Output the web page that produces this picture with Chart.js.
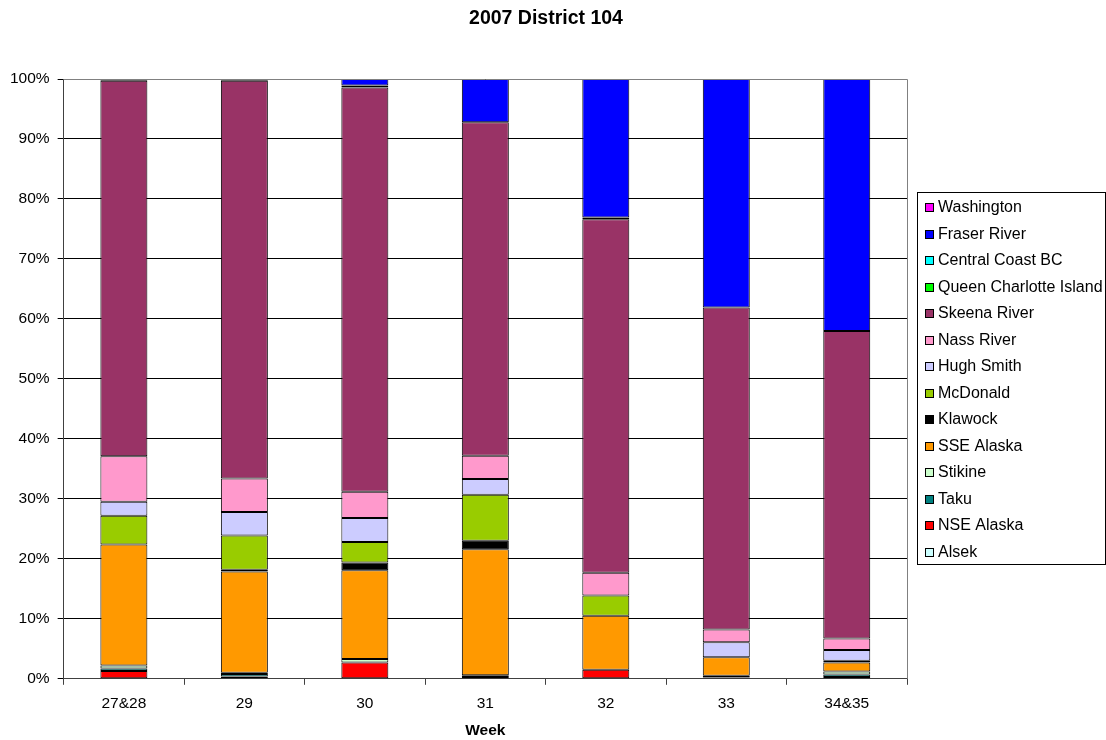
<!DOCTYPE html>
<html>
<head>
<meta charset="utf-8">
<script src="https://cdn.jsdelivr.net/npm/chart.js@4"></script>
<style>
  html, body { margin: 0; padding: 0; background: #fff; }
  #wrap { width: 1106px; height: 740px; }
</style>
</head>
<body>
<div id="wrap"><canvas id="statusChart"></canvas></div>
<script>
// week groups
const weeks = ['27&28', '29', '30', '31', '32', '33', '34&35'];

// percent of catch by stock (bottom of stack first)
const alsek        = [0.1, 0, 0, 0, 0, 0, 0];
const nseAlaska    = [1.2, 0.4, 2.7, 0.3, 1.5, 0.2, 0.3];
const taku         = [0.4, 0.4, 0, 0, 0, 0.3, 0.4];
const stikine      = [0.5, 0.2, 0.6, 0.3, 0, 0, 0.5];
const sseAlaska    = [20.2, 16.9, 14.8, 21.0, 9.0, 3.1, 1.5];
const klawock      = [0, 0.3, 1.3, 1.4, 0, 0, 0.3];
const mcDonald     = [4.8, 5.7, 3.4, 7.7, 3.4, 0, 0];
const hughSmith    = [2.3, 3.9, 4.0, 2.6, 0, 2.5, 1.8];
const nassRiver    = [7.6, 5.6, 4.4, 3.9, 3.8, 2.1, 1.9];
const skeenaRiver  = [62.6, 66.3, 67.4, 55.6, 58.9, 53.7, 51.3];
const qci          = [0, 0, 0.3, 0, 0.3, 0, 0];
const centralCoast = [0, 0, 0, 0, 0, 0, 0];
const fraserRiver  = [0.3, 0.3, 1.1, 7.2, 23.1, 38.1, 42.0];
const washington   = [0, 0, 0, 0, 0, 0, 0];

const yTicks = [0, 10, 20, 30, 40, 50, 60, 70, 80, 90, 100];

const chartTitle = '2007 District 104';

const FONT = "'Liberation Sans', Arial, sans-serif";

function ds(label, data, color) {
    return {
        label: label,
        data: data,
        backgroundColor: color,
        borderColor: '#000',
        borderWidth: 1,
        borderSkipped: false,
        categoryPercentage: 1,
        barPercentage: 0.39,
    };
}

// title, plot frame and boxed legend, like the spreadsheet original
const framePlugin = {
    id: 'frame',
    afterDraw(chart) {
        const c = chart.ctx;
        const a = chart.chartArea;
        c.save();

        c.fillStyle = '#000';
        c.font = 'bold 19.5px ' + FONT;
        c.textAlign = 'center';
        c.textBaseline = 'middle';
        c.fillText(chartTitle, 546, 19);

        c.strokeStyle = '#808080';
        c.lineWidth = 1;
        c.beginPath();
        c.moveTo(a.left, a.top + 0.5);
        c.lineTo(a.right + 0.5, a.top + 0.5);
        c.lineTo(a.right + 0.5, a.bottom);
        c.stroke();

        // legend
        const items = chart.data.datasets.slice().reverse();
        c.strokeStyle = '#000';
        c.strokeRect(917.5, 192.5, 188, 372);
        c.font = '16px ' + FONT;
        c.textAlign = 'left';
        items.forEach((d, i) => {
            const y = 207 + i * 26.5;
            c.fillStyle = d.backgroundColor;
            c.fillRect(925, Math.round(y - 4), 9, 9);
            c.strokeStyle = '#000';
            c.strokeRect(925.5, Math.round(y - 4) + 0.5, 8, 8);
            c.fillStyle = '#000';
            c.fillText(d.label, 938, y + 1);
        });
        c.restore();
    }
};

const ctx_host = document.getElementById('statusChart');

let chart_host = new Chart(ctx_host, {
    type: 'bar',
    data: {
        labels: weeks,
        datasets: [
            ds('Alsek', alsek, '#CCFFFF'),
            ds('NSE Alaska', nseAlaska, '#FF0000'),
            ds('Taku', taku, '#008080'),
            ds('Stikine', stikine, '#CCFFCC'),
            ds('SSE Alaska', sseAlaska, '#FF9900'),
            ds('Klawock', klawock, '#000000'),
            ds('McDonald', mcDonald, '#99CC00'),
            ds('Hugh Smith', hughSmith, '#CCCCFF'),
            ds('Nass River', nassRiver, '#FF99CC'),
            ds('Skeena River', skeenaRiver, '#993366'),
            ds('Queen Charlotte Island', qci, '#00FF00'),
            ds('Central Coast BC', centralCoast, '#00FFFF'),
            ds('Fraser River', fraserRiver, '#0000FF'),
            ds('Washington', washington, '#FF00FF'),
        ],
    },
    options: {
        responsive: true,
        maintainAspectRatio: false,
        animation: false,
        layout: {
            padding: { left: 2, right: 199, top: 79, bottom: 0 }
        },
        plugins: {
            title: { display: false },
            legend: { display: false },
            tooltip: { enabled: false },
        },
        scales: {
            x: {
                stacked: true,
                border: { color: '#404040', width: 1 },
                grid: {
                    drawOnChartArea: false,
                    tickLength: 6,
                    color: '#404040'
                },
                ticks: {
                    color: '#000',
                    padding: 10,
                    font: { family: FONT, size: 15.5 }
                },
                title: {
                    display: true,
                    text: 'Week',
                    color: '#000',
                    font: { family: FONT, size: 15.5, weight: 'bold' },
                    padding: { top: -2, bottom: 0 }
                }
            },
            y: {
                stacked: true,
                min: 0,
                max: 100,
                afterBuildTicks(axis) {
                    axis.ticks = yTicks.map(v => ({ value: v }));
                },
                border: { color: '#404040', width: 1 },
                grid: {
                    color: '#000',
                    tickLength: 6
                },
                ticks: {
                    color: '#000',
                    padding: 8,
                    font: { family: FONT, size: 15.5 },
                    callback: v => v + '%'
                }
            }
        },
    },
    plugins: [framePlugin]
});
</script>
</body>
</html>
